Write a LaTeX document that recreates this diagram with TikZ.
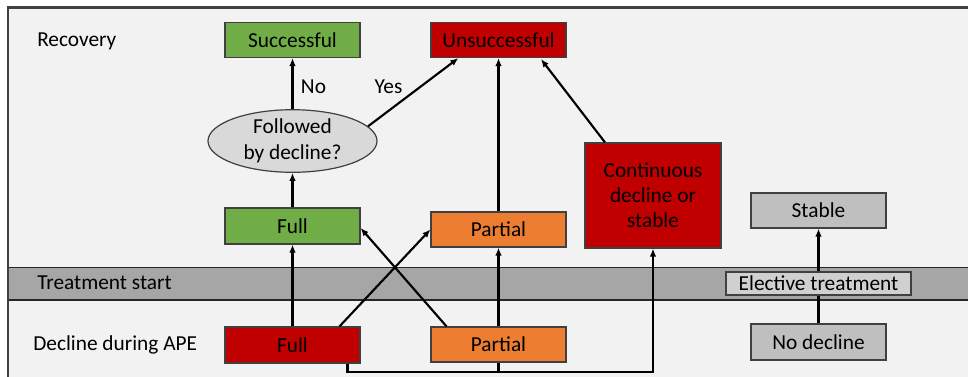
\documentclass[tikz,border=0pt]{standalone}
\usepackage{fontspec}
\setmainfont{Carlito}
\usetikzlibrary{arrows.meta,calc,shapes.geometric}
\definecolor{bgc}{HTML}{F2F2F2}
\definecolor{bandc}{HTML}{A6A6A6}
\definecolor{greenc}{HTML}{70AD47}
\definecolor{redc}{HTML}{C00000}
\definecolor{orangec}{HTML}{ED7D31}
\definecolor{grayc}{HTML}{BFBFBF}
\definecolor{ellc}{HTML}{D9D9D9}
\definecolor{elc}{HTML}{D0D0D0}
\definecolor{edgec}{HTML}{404040}
\tikzset{
  box/.style={draw=edgec, line width=0.9pt, inner sep=0pt, minimum width=135*0.75pt, minimum height=35*0.75pt, font=\fontsize{16}{19}\selectfont, align=center},
  lbl/.style={inner sep=0pt, font=\fontsize{16}{19}\selectfont},
  arr/.style={line width=1.6pt, -{Latex[length=6pt,width=5pt]}},
  ln/.style={line width=1.6pt},
}
\begin{document}
\begin{tikzpicture}[x=0.75pt,y=-0.75pt]
\useasboundingbox (0,0) rectangle (968,376);
\begin{scope}
\clip (0,0) rectangle (968,376);
\fill[white] (0,0) rectangle (968,376);
\draw[draw=edgec, fill=bgc, line width=1.6pt] (8,7.5) rectangle (990,400);
\draw[draw=black!85, fill=bandc, line width=1pt] (8,267.5) rectangle (990,300);
\draw[edgec, line width=1.6pt] (8,7.5) -- (8,400);
\end{scope}
% labels
\node[lbl, anchor=west] (lrec) at (37,41) {Recovery};
\node[lbl, anchor=west] (ltreat) at (37,283) {Treatment start};
\node[lbl, anchor=west] (ldecl) at (33,345) {Decline during APE};
% nodes
\node[box, fill=greenc] (succ) at (292.5,40) {Successful};
\node[box, fill=redc] (unsucc) at (498.5,40) {Unsuccessful};
\node[draw=edgec, line width=0.9pt, fill=ellc, ellipse, inner sep=0pt, minimum width=169*0.75pt, minimum height=60*0.75pt, font=\fontsize{16}{19.5}\selectfont, align=center] (ell) at (292.5,141) {Followed\\by decline?};
\node[box, fill=greenc, minimum height=36*0.75pt] (fullg) at (292.5,226) {Full};
\node[box, fill=orangec] (partu) at (498.5,229.5) {Partial};
\node[box, fill=redc, minimum width=136*0.75pt, minimum height=105*0.75pt, font=\fontsize{16}{18.75}\selectfont] (cont) at (653,195.5) {Continuous\\decline or\\stable};
\node[box, fill=grayc] (stable) at (818.5,210.5) {Stable};
\node[box, fill=grayc, minimum height=36*0.75pt] (nodec) at (818.5,342) {No decline};
\node[box, fill=redc, minimum height=36*0.75pt] (fullr) at (292.5,345) {Full};
\node[box, fill=orangec] (partl) at (498.5,344.5) {Partial};
% arrows
\draw[arr] (fullr.north) -- (fullg.south);
\draw[arr] (fullg.north) -- (ell.south);
\draw[arr] (ell.north) -- (succ.south);
\node[lbl] (lno) at (313.5,87) {No};
\draw[arr] (ell.11) -- ($(unsucc.south west)+(28,0)$);
\node[lbl] (lyes) at (388.5,87) {Yes};
\draw[arr] ($(fullr.north)+(47,0)$) -- (partu.west);
\draw[arr] ($(partl.north)+(-52,0)$) -- ($(fullg.east)+(0,2)$);
\draw[arr] (partl.north) -- (partu.south);
\draw[arr] (partu.north) -- (unsucc.south);
\draw[arr] ($(cont.north)+(-48,0)$) -- ($(unsucc.south)+(42.5,1)$);
\coordinate (b1) at (347.5,372);
\coordinate (b2) at (653,372);
\coordinate (b3) at (498.5,372);
\draw[arr] (fullr.south -| b1) -- (b1) -- (b2) -- (cont.south);
\draw[ln] (partl.south) -- (b3);
\draw[arr] (nodec.north) -- (stable.south);
\node[box, fill=elc, minimum width=185*0.75pt, minimum height=23*0.75pt] (elect) at (818.5,283.5) {Elective treatment};
\end{tikzpicture}
\end{document}
